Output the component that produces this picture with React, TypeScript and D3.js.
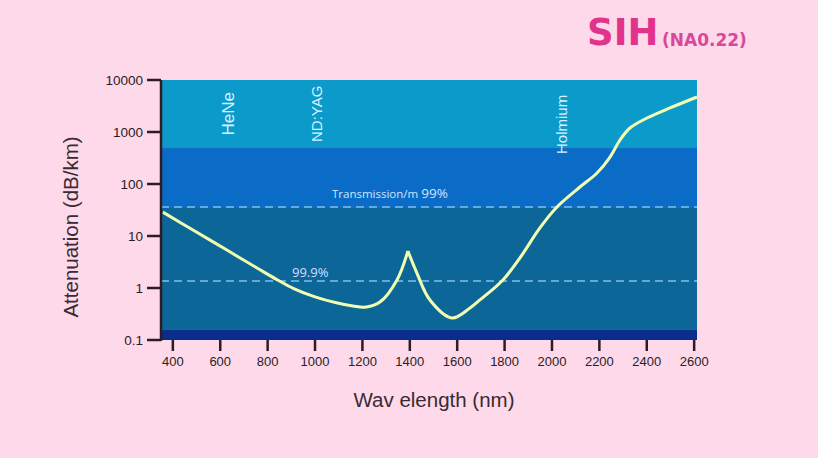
import React from "react";
import * as d3 from "d3";

const wavelengths = [358, 485, 628, 768, 840, 910, 1000, 1090, 1160, 1210, 1274, 1346, 1392, 1430, 1485, 1578, 1654, 1696, 1793, 1865, 1949, 2021, 2118, 2190, 2245, 2287, 2329, 2401, 2498, 2612];
const attenuation = [28.8, 13.0, 5.37, 2.24, 1.445, 0.977, 0.676, 0.519, 0.452, 0.427, 0.537, 1.43, 5.15, 1.94, 0.587, 0.265, 0.412, 0.589, 1.43, 3.8, 14.3, 36.1, 87.5, 163, 330, 702, 1194, 1858, 2897, 4710];
const peakWavelength = 1392;

const xTicks = [400, 600, 800, 1000, 1200, 1400, 1600, 1800, 2000, 2200, 2400, 2600];
const yTicks = [0.1, 1, 10, 100, 1000, 10000];
const yTickLabels = ["0.1", "1", "10", "100", "1000", "10000"];

const bandBounds = [10000, 492, 36, 0.156, 0.1];
const bandColors = ["#0c9acb", "#0b6cc8", "#0c6798", "#0a2d8c"];
const dashedLevels = [36, 1.36];

const laserNames = ["HeNe", "ND:YAG", "Holmium"];
const laserWavelengths = [656, 1031, 2065];
const laserValues = [2240, 2240, 1400];

const W = 818, H = 458;
const left = 161, right = 697, top = 80, bottom = 340;

export default function App() {
  const x = d3.scaleLinear().domain([350, 2612]).range([left, right]);
  const y = d3.scaleLog().domain([0.1, 10000]).range([bottom, top]);
  const pts = wavelengths.map((w, i) => [w, attenuation[i]] as [number, number]);
  const seg1 = pts.filter((p) => p[0] <= peakWavelength);
  const seg2 = pts.filter((p) => p[0] >= peakWavelength);
  const line = d3.line<[number, number]>().x((d) => x(d[0])).y((d) => y(d[1])).curve(d3.curveCatmullRom.alpha(0.5));
  const axisColor = "#2c1c24";
  const font = "'Liberation Sans', Arial, sans-serif";
  return (
    <svg width={W} height={H} style={{ position: "fixed", left: 0, top: 0, display: "block" }}>
      <rect x={0} y={0} width={W} height={H} fill="#fdd9e9" />
      {bandColors.map((c, i) => (
        <rect key={i} x={left} width={right - left} y={y(bandBounds[i])} height={y(bandBounds[i + 1]) - y(bandBounds[i])} fill={c} />
      ))}
      {dashedLevels.map((v, i) => (
        <line key={i} x1={left} x2={right} y1={y(v)} y2={y(v)} stroke="#7ec0ea" strokeWidth={1.6} strokeDasharray="8,5" />
      ))}
      {laserNames.map((n, i) => (
        <text key={n} transform={`translate(${x(laserWavelengths[i])},${y(laserValues[i])}) rotate(-90)`} textAnchor="middle" fontFamily={font} fontSize={n === "HeNe" ? 17 : 15} fill="#d6f2ff">{n}</text>
      ))}
      <text x={332} y={198} fontFamily="'Open Sans', sans-serif" fontSize={11.5} fill="#cfe6ff">Transmission/m <tspan fontSize={13.5}>99%</tspan></text>
      <text x={292} y={277} fontFamily="'Open Sans', sans-serif" fontSize={13} fill="#d8dcff">99.9%</text>
      <path d={line(seg1) || ""} fill="none" stroke="#f2ffb0" strokeWidth={3} strokeLinejoin="round" />
      <path d={line(seg2) || ""} fill="none" stroke="#f2ffb0" strokeWidth={3} strokeLinejoin="round" />
      <line x1={left} x2={left} y1={top} y2={bottom + 1} stroke={axisColor} strokeWidth={2.5} />
      {yTicks.map((t, i) => (
        <g key={t}>
          <line x1={147} x2={left} y1={y(t)} y2={y(t)} stroke={axisColor} strokeWidth={2.5} />
          <text x={143} y={y(t) + 5} textAnchor="end" fontFamily={font} fontSize={13.5} fill={axisColor}>{yTickLabels[i]}</text>
        </g>
      ))}
      {xTicks.map((t) => (
        <g key={t}>
          <line x1={x(t)} x2={x(t)} y1={bottom} y2={bottom + 11} stroke={axisColor} strokeWidth={2.5} />
          <text x={x(t)} y={366} textAnchor="middle" fontFamily={font} fontSize={13} fill={axisColor}>{t}</text>
        </g>
      ))}
      <text x={434} y={407} textAnchor="middle" fontFamily={font} fontSize={20.5} fill="#3a2a32">Wav elength (nm)</text>
      <text transform="translate(78,227) rotate(-90)" textAnchor="middle" fontFamily={font} fontSize={20.5} fill="#3a2a32">Attenuation (dB/km)</text>
      <text x={587} y={45} fontFamily="'DejaVu Sans', Verdana, sans-serif" fontWeight="bold" fontSize={37} fill="#e2338c">SIH</text>
      <text x={662} y={46} fontFamily="'DejaVu Sans', Verdana, sans-serif" fontWeight="bold" fontSize={17} fill="#d9479a">(NA0.22)</text>
    </svg>
  );
}
